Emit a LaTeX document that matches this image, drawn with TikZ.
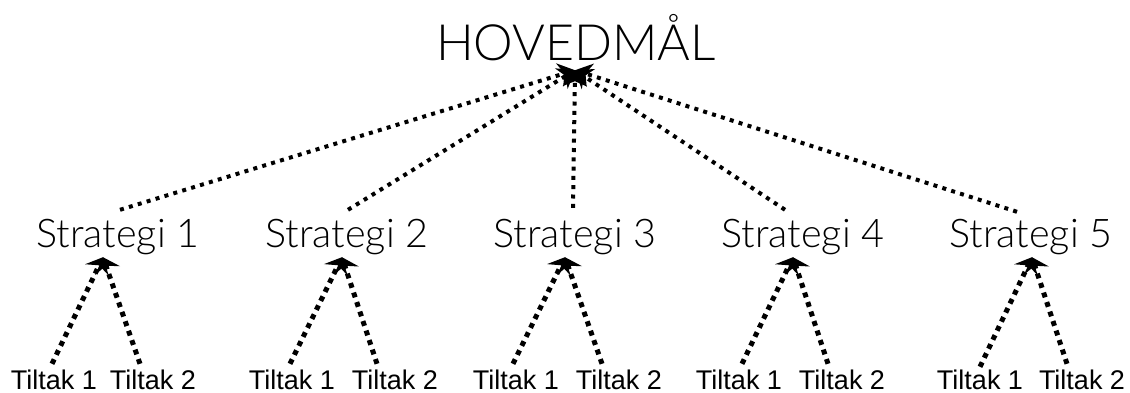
\documentclass[tikz,border=0pt]{standalone}
\usepackage{fontspec}
\setmainfont{Liberation Sans}
\newfontfamily\lightfont{Lato}[UprightFont=* Light]
\usetikzlibrary{arrows.meta}
\begin{document}
\begin{tikzpicture}[x=1pt,y=-1pt,
  goal/.style={font=\lightfont\fontsize{50}{50}\selectfont, inner sep=0pt, text height=38pt, text depth=0pt, anchor=base},
  strat/.style={font=\lightfont\fontsize{39.5}{39.5}\selectfont, inner sep=0pt, text height=29pt, text depth=0pt, anchor=base},
  tiltak/.style={font=\fontsize{27}{27}\selectfont, inner sep=0pt, text height=19pt, text depth=0pt, anchor=base},
  toplink/.style={line width=4pt, dash pattern=on 4pt off 5.3pt, -{Stealth[length=16pt,width=24pt,inset=5pt]}},
  sublink/.style={line width=5pt, dash pattern=on 5pt off 5pt, -{Stealth[length=14pt,width=26pt,inset=5pt]}}]
\useasboundingbox (0,0) rectangle (1130,392);

\node[goal] (hm) at (576,60) {HOVEDMÅL};

\node[strat] (s1) at (118,247) {Strategi 1};
\node[strat] (s2) at (347,247) {Strategi 2};
\node[strat] (s3) at (575,247) {Strategi 3};
\node[strat] (s4) at (803,247) {Strategi 4};
\node[strat] (s5) at (1031,247) {Strategi 5};

\node[tiltak] (t11) at (54,389) {Tiltak 1};
\node[tiltak] (t12) at (153,389) {Tiltak 2};
\node[tiltak] (t21) at (292,389) {Tiltak 1};
\node[tiltak] (t22) at (395,389) {Tiltak 2};
\node[tiltak] (t31) at (516,389) {Tiltak 1};
\node[tiltak] (t32) at (619,389) {Tiltak 2};
\node[tiltak] (t41) at (739,389) {Tiltak 1};
\node[tiltak] (t42) at (842,389) {Tiltak 2};
\node[tiltak] (t51) at (980,389) {Tiltak 1};
\node[tiltak] (t52) at (1082,389) {Tiltak 2};

% strategies to main goal
\draw[toplink] ([xshift=2pt,yshift=8pt]s1.north) -- ([xshift=-1pt,yshift=-10pt]hm.south);
\draw[toplink] ([xshift=1pt,yshift=8pt]s2.north) -- ([xshift=-1pt,yshift=-10pt]hm.south);
\draw[toplink] ([xshift=-2pt,yshift=10pt]s3.north) -- ([xshift=-1pt,yshift=-10pt]hm.south);
\draw[toplink] ([xshift=-18pt,yshift=8pt]s4.north) -- ([xshift=-1pt,yshift=-10pt]hm.south);
\draw[toplink] ([xshift=-14pt,yshift=6pt]s5.north) -- ([xshift=-1pt,yshift=-10pt]hm.south);

% measures to strategies
\draw[sublink] ([xshift=-2pt,yshift=6pt]t11.north) -- ([xshift=-15pt,yshift=-10pt]s1.south);
\draw[sublink] ([xshift=-13pt,yshift=6pt]t12.north) -- ([xshift=-15pt,yshift=-10pt]s1.south);
\draw[sublink] ([xshift=-2pt,yshift=6pt]t21.north) -- ([xshift=-5pt,yshift=-10pt]s2.south);
\draw[sublink] ([xshift=-18pt,yshift=6pt]t22.north) -- ([xshift=-5pt,yshift=-10pt]s2.south);
\draw[sublink] ([xshift=-3pt,yshift=6pt]t31.north) -- ([xshift=-10pt,yshift=-10pt]s3.south);
\draw[sublink] ([xshift=-17pt,yshift=6pt]t32.north) -- ([xshift=-10pt,yshift=-10pt]s3.south);
\draw[sublink] ([xshift=3pt,yshift=6pt]t41.north) -- ([xshift=-10pt,yshift=-10pt]s4.south);
\draw[sublink] ([xshift=-14pt,yshift=6pt]t42.north) -- ([xshift=-10pt,yshift=-10pt]s4.south);
\draw[sublink] ([xshift=0pt,yshift=3pt]t51.north) -- ([xshift=1pt,yshift=-10pt]s5.south);
\draw[sublink] ([xshift=-15pt,yshift=6pt]t52.north) -- ([xshift=1pt,yshift=-10pt]s5.south);
\end{tikzpicture}
\end{document}
